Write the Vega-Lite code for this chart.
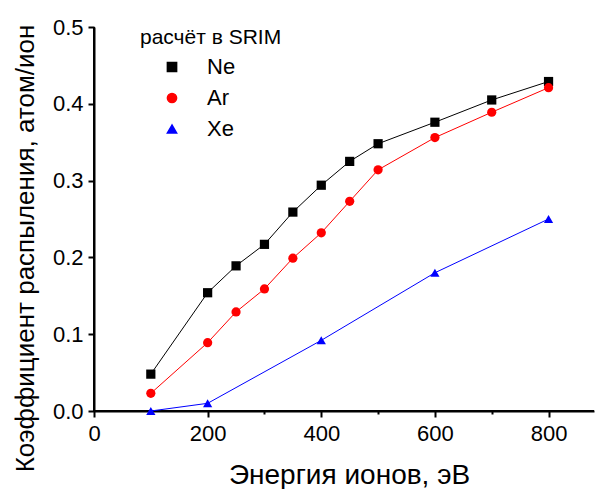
{
  "$schema": "https://vega.github.io/schema/vega-lite/v6.json",
  "width": 500,
  "height": 384,
  "autosize": {"type": "none"},
  "padding": {"left": 94, "top": 27, "right": 3, "bottom": 78},
  "background": "#ffffff",
  "config": {
    "view": {"stroke": null},
    "font": "Liberation Sans",
    "axis": {
      "grid": false,
      "labelColor": "black",
      "titleColor": "black",
      "labelFontSize": 22,
      "titleFontWeight": "normal"
    }
  },
  "data": {
    "values": [
      {"series": "Ne", "energy": 100, "y": 0.048},
      {"series": "Ne", "energy": 200, "y": 0.154},
      {"series": "Ne", "energy": 250, "y": 0.189},
      {"series": "Ne", "energy": 300, "y": 0.217},
      {"series": "Ne", "energy": 350, "y": 0.259},
      {"series": "Ne", "energy": 400, "y": 0.294},
      {"series": "Ne", "energy": 450, "y": 0.325},
      {"series": "Ne", "energy": 500, "y": 0.348},
      {"series": "Ne", "energy": 600, "y": 0.376},
      {"series": "Ne", "energy": 700, "y": 0.405},
      {"series": "Ne", "energy": 800, "y": 0.429},
      {"series": "Ar", "energy": 100, "y": 0.023},
      {"series": "Ar", "energy": 200, "y": 0.089},
      {"series": "Ar", "energy": 250, "y": 0.129},
      {"series": "Ar", "energy": 300, "y": 0.159},
      {"series": "Ar", "energy": 350, "y": 0.199},
      {"series": "Ar", "energy": 400, "y": 0.232},
      {"series": "Ar", "energy": 450, "y": 0.273},
      {"series": "Ar", "energy": 500, "y": 0.314},
      {"series": "Ar", "energy": 600, "y": 0.356},
      {"series": "Ar", "energy": 700, "y": 0.389},
      {"series": "Ar", "energy": 800, "y": 0.421},
      {"series": "Xe", "energy": 100, "y": 0.0},
      {"series": "Xe", "energy": 200, "y": 0.01},
      {"series": "Xe", "energy": 400, "y": 0.092},
      {"series": "Xe", "energy": 600, "y": 0.18},
      {"series": "Xe", "energy": 800, "y": 0.25}
    ]
  },
  "layer": [
    {
      "mark": {"type": "rule", "color": "#000000", "strokeWidth": 2},
      "encoding": {"y": {"datum": 0}}
    },
    {
      "mark": {"type": "rule", "color": "#000000", "strokeWidth": 2},
      "encoding": {"x": {"datum": 0}}
    },
    {
      "mark": {"type": "line", "strokeWidth": 1},
      "encoding": {
        "x": {
          "field": "energy",
          "type": "quantitative",
          "scale": {"domain": [0, 880], "nice": false, "zero": false},
          "axis": {
            "domain": true,
            "ticks": true,
            "domainColor": "#000000",
            "domainWidth": 2,
            "domainOpacity": 1,
            "tickColor": "#000000",
            "tickWidth": 2,
            "tickOpacity": 1,
            "tickSize": {"condition": {"test": "datum.value % 200 === 0", "value": 6}, "value": 3},
            "title": "Энергия ионов, эВ",
            "titleFontSize": 28,
            "titleX": 255,
            "titleY": 72,
            "titleBaseline": "alphabetic",
            "values": [0, 100, 200, 300, 400, 500, 600, 700, 800],
            "labelExpr": "datum.value % 200 === 0 ? datum.label : ''",
            "labelFlush": false,
            "labelPadding": 6
          }
        },
        "y": {
          "field": "y",
          "type": "quantitative",
          "scale": {"domain": [0, 0.5], "nice": false},
          "axis": {
            "domain": true,
            "ticks": true,
            "domainColor": "#000000",
            "domainWidth": 2,
            "domainOpacity": 1,
            "tickColor": "#000000",
            "tickWidth": 2,
            "tickOpacity": 1,
            "tickSize": {"condition": {"test": "round(datum.value * 100) % 10 === 0", "value": 6}, "value": 3},
            "title": "Коэффициент распыления, атом/ион",
            "titleFontSize": 26,
            "titleX": -61,
            "titleY": 221,
            "titleBaseline": "alphabetic",
            "values": [0, 0.05, 0.1, 0.15, 0.2, 0.25, 0.3, 0.35, 0.4, 0.45, 0.5],
            "format": ".1f",
            "labelExpr": "round(datum.value * 100) % 10 === 0 ? datum.label : ''",
            "labelFlush": false,
            "labelPadding": 5
          }
        },
        "color": {"field": "series", "type": "nominal", "sort": ["Ne", "Ar", "Xe"], "scale": {"domain": ["Ne", "Ar", "Xe"], "range": ["#000000", "#ff0000", "#0000ff"]},
          "legend": {
            "title": "расчёт в SRIM",
            "orient": "none",
            "legendX": 46,
            "legendY": 0,
            "titleFontSize": 21,
            "titleFontWeight": "normal",
            "titleColor": "black",
            "titlePadding": 8,
            "labelFontSize": 22,
            "labelColor": "black",
            "symbolOffset": 21,
            "labelOffset": 24,
            "rowPadding": 9,
            "symbolSize": 85
          }
        }
      }
    },
    {
      "mark": {"type": "point", "filled": true, "opacity": 1, "size": 85},
      "encoding": {
        "x": {"field": "energy", "type": "quantitative"},
        "y": {"field": "y", "type": "quantitative"},
        "shape": {"field": "series", "type": "nominal", "sort": ["Ne", "Ar", "Xe"], "scale": {"domain": ["Ne", "Ar", "Xe"], "range": ["square", "circle", "triangle-up"]}},
        "color": {"field": "series", "type": "nominal", "sort": ["Ne", "Ar", "Xe"]}
      }
    }
  ]
}
